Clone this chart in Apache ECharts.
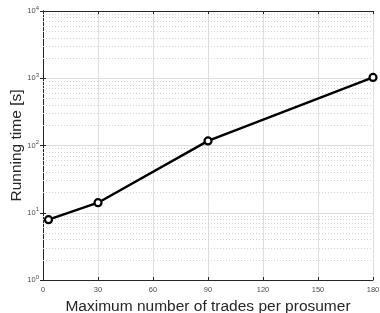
<!DOCTYPE html>
<html>
<head>
<meta charset="utf-8">
<script src="https://cdn.jsdelivr.net/npm/echarts@6/dist/echarts.min.js"></script>
<style>
html, body { margin: 0; padding: 0; background: #fff; }
#chart { width: 380px; height: 313px; }
</style>
</head>
<body>
<div id="chart"></div>
<script>
// max trades per prosumer vs running time (log scale)
var maxTrades = [3, 30, 90, 180];
var runTime = [7.9, 14.1, 117, 1030];
var xTicks = [0, 30, 60, 90, 120, 150, 180];
var yDecades = [1, 10, 100, 1000, 10000];
var minorGrid = [];
yDecades.slice(0, 4).forEach(function (d) {
    [2, 3, 4, 5, 6, 7, 8, 9].forEach(function (m) { minorGrid.push(d * m); });
});

var axisColor = '#262626';
var tickColor = '#4d4d4d';
var labelFont = 'Liberation Sans, Arial, sans-serif';

function expLabel(v) {
    var e = Math.round(Math.log10(v));
    return '{b|10}{s|' + e + '}';
}

var chart = echarts.init(document.getElementById('chart'));
chart.setOption({
    animation: false,
    grid: { left: 43, right: 7, top: 11, bottom: 33, outerBoundsMode: 'none', containLabel: false },
    xAxis: [{
        type: 'value', min: xTicks[0], max: xTicks[xTicks.length - 1], interval: 30,
        name: 'Maximum number of trades per prosumer',
        nameLocation: 'middle', nameGap: 19, nameMoveOverlap: false,
        nameTextStyle: { fontFamily: labelFont, fontSize: 15.5, color: axisColor },
        axisLine: { lineStyle: { color: axisColor, width: 1 } },
        axisTick: { inside: true, length: 3, lineStyle: { color: axisColor } },
        axisLabel: { fontFamily: labelFont, fontSize: 7.5, color: tickColor, margin: 6 },
        splitLine: { lineStyle: { color: '#dedede', width: 1 } }
    }, {
        type: 'value', position: 'top', min: 0, max: 180, interval: 30,
        axisLine: { onZero: false, lineStyle: { color: axisColor, width: 1 } },
        axisTick: { inside: true, length: 3, lineStyle: { color: axisColor } },
        axisLabel: { show: false }, splitLine: { show: false }
    }],
    yAxis: [{
        type: 'log', logBase: 10, min: 1, max: 10000,
        name: 'Running time [s]',
        nameLocation: 'middle', nameGap: 18, nameMoveOverlap: false,
        nameTextStyle: { fontFamily: labelFont, fontSize: 15.5, color: axisColor },
        axisLine: { show: true, lineStyle: { color: axisColor, width: 1 } },
        axisTick: { inside: true, length: 3, lineStyle: { color: axisColor } },
        axisLabel: {
            margin: 4, formatter: expLabel,
            rich: {
                b: { fontFamily: labelFont, fontSize: 7.5, color: tickColor },
                s: { fontFamily: labelFont, fontSize: 6, color: tickColor, padding: [0, 0, 6, 0] }
            }
        },
        splitLine: { lineStyle: { color: '#dedede', width: 1 } }
    }, {
        type: 'log', logBase: 10, min: 1, max: 10000, position: 'right',
        axisLine: { show: true, lineStyle: { color: axisColor, width: 1 } },
        axisTick: { inside: true, length: 3, lineStyle: { color: axisColor } },
        axisLabel: { show: false }, splitLine: { show: false }
    }],
    series: [{
        type: 'line',
        data: maxTrades.map(function (x, i) { return [x, runTime[i]]; }),
        symbol: 'circle', symbolSize: 7,
        itemStyle: { color: '#fff', borderColor: '#000', borderWidth: 2.2 },
        lineStyle: { color: '#000', width: 2.4 },
        z: 5,
        markLine: {
            silent: true, symbol: 'none', animation: false,
            label: { show: false },
            lineStyle: { color: '#d4d4d4', type: [1, 2], width: 1 },
            data: minorGrid.map(function (v) { return { yAxis: v }; })
        }
    }]
});
</script>
</body>
</html>
